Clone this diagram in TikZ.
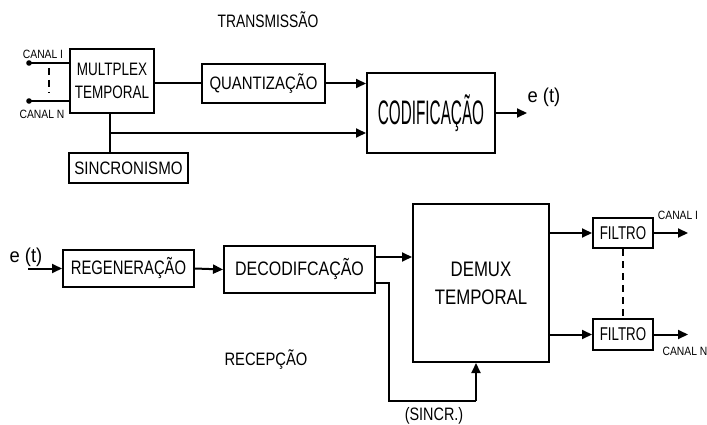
\documentclass[tikz,border=0pt]{standalone}
\usepackage{fontspec}
\setmainfont{Liberation Sans}
\usetikzlibrary{arrows.meta}
\newcommand{\tx}[3]{\scalebox{#1}[1]{\fontsize{#2}{#2}\selectfont #3}}
\tikzset{
  blk/.style={draw, line width=2pt, inner sep=0pt, align=center},
  wire/.style={line width=2pt},
  arr/.style={line width=2pt, -{Triangle[length=10pt,width=9pt]}},
  dsh/.style={line width=2pt, dash pattern=on 7pt off 5pt},
  lbl/.style={inner sep=0pt}
}
\begin{document}
\begin{tikzpicture}[x=1pt,y=-1pt]
\useasboundingbox (0,0) rectangle (707,425);
% transmission
\node[lbl] (ttx) at (268,20) {\tx{0.77}{18}{TRANSMISSÃO}};
\node[blk, minimum width=84pt, minimum height=64pt, font=\fontsize{18}{23}\selectfont] (mux) at (112,81)
  {\tx{0.75}{18}{MULTPLEX}\\\tx{0.75}{18}{TEMPORAL}};
\node[blk, minimum width=123pt, minimum height=39pt] (quant) at (263.5,83.5) {\tx{0.83}{18}{QUANTIZAÇÃO}};
\node[blk, minimum width=128pt, minimum height=80pt] (cod) at (431,113) {\tx{0.45}{34}{CODIFICAÇÃO}};
\node[blk, minimum width=119pt, minimum height=30pt] (sinc) at (128.5,168) {\tx{0.84}{18}{SINCRONISMO}};
\node[lbl] (ci) at (43,54) {\tx{0.86}{12}{CANAL I}};
\node[lbl] (cn) at (42,114) {\tx{0.86}{12}{CANAL N}};
\node[lbl] (et1) at (544,97) {\tx{0.92}{20}{e (t)}};
\coordinate (c1) at (29,63);
\coordinate (c2) at (29,101);
\coordinate (d1) at (49,68);
\coordinate (d2) at (49,93);
\coordinate (j) at (110,133);
\coordinate (cout) at (527,113);
\fill (c1) circle (2.8pt);
\fill (c2) circle (2.8pt);
\draw[wire] (c1) -- (mux.west |- c1);
\draw[wire] (c2) -- (mux.west |- c2);
\draw[dsh] (d1) -- (d2);
\draw[wire] (mux.east |- quant.west) -- (quant.west);
\draw[arr] (quant.east) -- (cod.west |- quant.east);
\draw[wire] (j |- mux.south) -- (j |- sinc.north);
\draw[arr] (j) -- (cod.west |- j);
\draw[arr] (cod.east) -- (cout);
% reception
\node[blk, minimum width=131pt, minimum height=37pt] (regen) at (128.5,268.5) {\tx{0.76}{19.5}{REGENERAÇÃO}};
\node[blk, minimum width=151pt, minimum height=47pt] (decod) at (299.5,269.5) {\tx{0.82}{19.5}{DECODIFCAÇÃO}};
\node[blk, minimum width=136pt, minimum height=158pt, font=\fontsize{21}{28}\selectfont] (demux) at (481,283)
  {\tx{0.8}{21}{DEMUX}\\\tx{0.8}{21}{TEMPORAL}};
\node[blk, minimum width=60pt, minimum height=30pt] (f1) at (623,233) {\tx{0.72}{18.5}{FILTRO}};
\node[blk, minimum width=60pt, minimum height=31pt] (f2) at (623,334.5) {\tx{0.72}{18.5}{FILTRO}};
\node[lbl] (et2) at (26,257) {\tx{0.92}{20}{e (t)}};
\node[lbl] (rec) at (266,360) {\tx{0.82}{18}{RECEPÇÃO}};
\node[lbl] (sl) at (434,416) {\tx{0.8}{18}{(SINCR.)}};
\node[lbl] (o1l) at (678,215) {\tx{0.86}{12}{CANAL I}};
\node[lbl] (o2l) at (685,351) {\tx{0.86}{12}{CANAL N}};
\coordinate (rin) at (28,268.5);
\coordinate (dy1) at (0,257);
\coordinate (dy2) at (0,283);
\coordinate (s1) at (389,283);
\coordinate (s2) at (389,401);
\coordinate (s3) at (476,401);
\coordinate (o1) at (688,233);
\coordinate (o2) at (688,334.5);
\draw[arr] (rin) -- (regen.west);
\draw[arr] (regen.east) -- (decod.west);
\draw[arr] (decod.east |- dy1) -- (demux.west |- dy1);
\draw[wire] (decod.east |- s1) -- (s1) -- (s2) -- (s3);
\draw[arr] (s3) -- (s3 |- demux.south);
\draw[arr] (demux.east |- f1) -- (f1.west);
\draw[arr] (demux.east |- f2) -- (f2.west);
\draw[arr] (f1.east) -- (o1);
\draw[arr] (f2.east) -- (o2);
\draw[dsh] (f1.south) -- (f2.north);
\end{tikzpicture}
\end{document}
